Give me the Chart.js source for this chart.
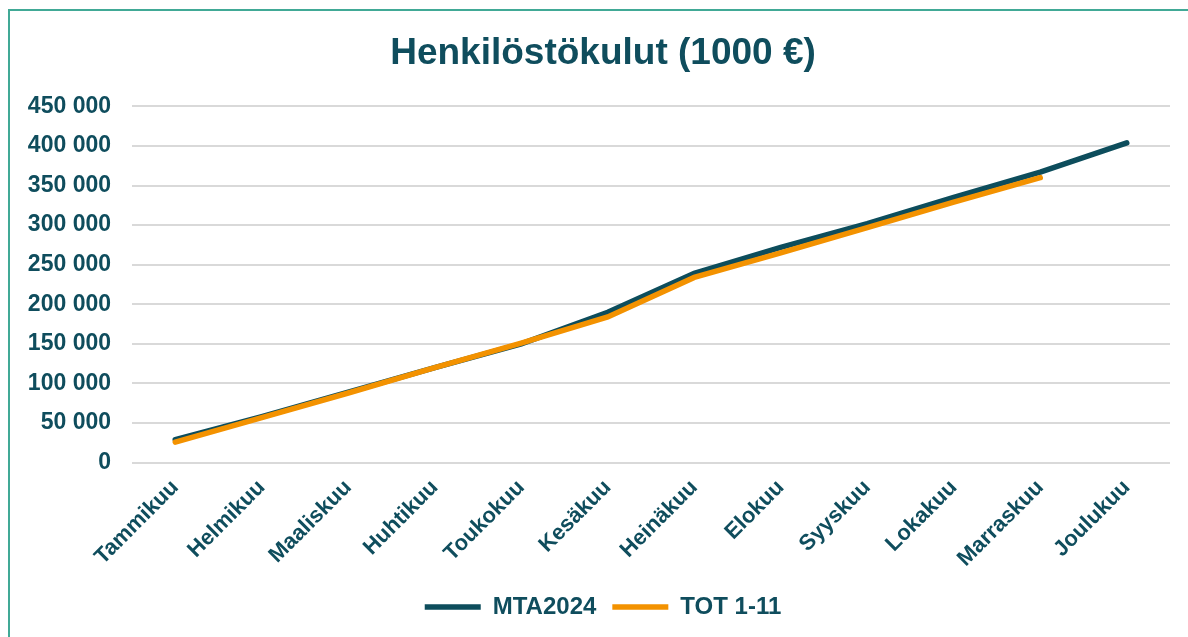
<!DOCTYPE html>
<html>
<head>
<meta charset="utf-8">
<script src="https://cdn.jsdelivr.net/npm/chart.js@4"></script>
<style>
    body { margin: 0; background: #fff; overflow: hidden; }
    .frame {
        position: absolute; left: 8px; top: 9px; width: 1200px; height: 660px;
        border: 2px solid #41a996; box-sizing: border-box;
    }
    #chart { position: absolute; left: 0; top: 0; }
</style>
</head>
<body>
<div class="frame"></div>
<canvas id="chart" width="1188" height="637"></canvas>
<script>
var months = ["Tammikuu", "Helmikuu", "Maaliskuu", "Huhtikuu", "Toukokuu", "Kesäkuu",
    "Heinäkuu", "Elokuu", "Syyskuu", "Lokakuu", "Marraskuu", "Joulukuu"];
var mta2024 = [29000, 58000, 89000, 120000, 150000, 190000, 239000, 272000, 302000, 335000, 367000, 404000];
var tot111 = [26000, 57000, 88000, 120000, 151000, 184000, 234000, 265000, 297000, 329000, 360000];

var textColor = '#0f4d5d';
var font = 'Liberation Sans, Arial, sans-serif';

function fmt(v) {
    return String(v).replace(/\B(?=(\d{3})+(?!\d))/g, ' ');
}

var ctx = document.getElementById('chart').getContext('2d');
var myChart = new Chart(ctx, {
    type: 'line',
    data: {
        labels: months,
        datasets: [{
            label: 'MTA2024',
            data: mta2024,
            borderColor: '#0d4d5c',
            backgroundColor: '#0d4d5c',
            borderWidth: 5.5,
            borderCapStyle: 'round',
            pointRadius: 0,
            order: 1
        }, {
            label: 'TOT 1-11',
            data: tot111,
            borderColor: '#f39200',
            backgroundColor: '#f39200',
            borderWidth: 5.5,
            borderCapStyle: 'round',
            pointRadius: 0,
            order: 0
        }]
    },
    options: {
        responsive: false,
        animation: false,
        layout: { padding: { left: 36, right: 18, top: 0, bottom: 8 } },
        plugins: {
            title: {
                display: true,
                text: 'Henkilöstökulut (1000 €)',
                color: textColor,
                font: { family: font, size: 37, weight: 'bold' },
                padding: { top: 32, bottom: 30 }
            },
            legend: {
                position: 'bottom',
                labels: {
                    color: textColor,
                    font: { family: font, size: 24, weight: 'bold' },
                    usePointStyle: true,
                    pointStyle: 'line',
                    pointStyleWidth: 56,
                    padding: 16,
                    sort: function(a, b) { return a.datasetIndex - b.datasetIndex; }
                }
            },
            tooltip: { enabled: false }
        },
        scales: {
            x: {
                offset: true,
                afterFit: function(scale) { scale.height += 3; },
                grid: { display: false },
                border: { display: false },
                ticks: {
                    color: textColor,
                    font: { family: font, size: 22, weight: 'bold' },
                    minRotation: 45,
                    maxRotation: 45,
                    padding: 4
                }
            },
            y: {
                min: 0,
                max: 450000,
                afterFit: function(scale) {
                    scale.width = 96;
                    // labels stick out left of the axis box, don't clip them
                    scale._computeLabelArea = function() {};
                },
                grid: { color: '#d9d9d9', lineWidth: 2, drawTicks: false },
                border: { display: false },
                ticks: {
                    stepSize: 50000,
                    color: textColor,
                    font: { family: font, size: 23, weight: 'bold' },
                    padding: 21,
                    callback: function(v) { return fmt(v); }
                }
            }
        }
    }
});
</script>
</body>
</html>
